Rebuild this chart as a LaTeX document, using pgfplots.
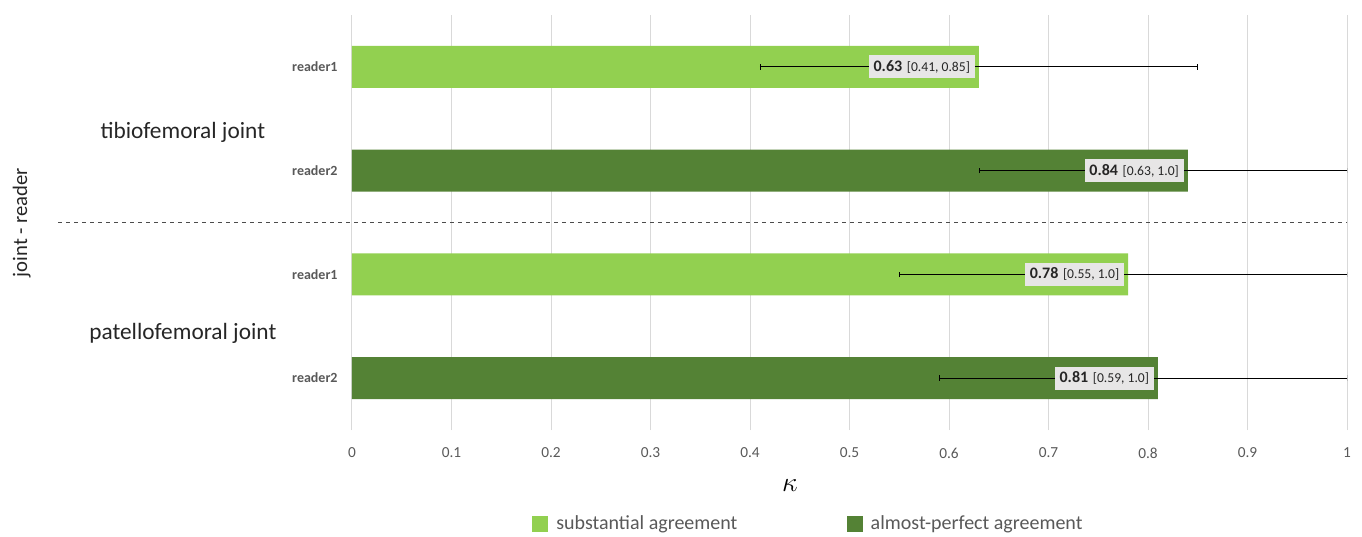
\documentclass[border=0pt]{standalone}
\usepackage{fontspec}
\setmainfont{Carlito}
\usepackage{pgfplots}
\usepackage{pgfplotstable}
\pgfplotsset{compat=1.18}
\definecolor{lightg}{HTML}{92D050}
\definecolor{darkg}{HTML}{548235}
\definecolor{tickgray}{HTML}{595959}
\definecolor{gridgray}{HTML}{D9D9D9}
\definecolor{boxgray}{HTML}{E7E6E6}
\definecolor{txt}{HTML}{262626}
% bar label: kappa in bold, CI small
\DeclareRobustCommand\lbl[2]{{\fontsize{12}{14}\selectfont\bfseries #1}\hspace{3.5pt}{\fontsize{10.2}{12}\selectfont #2}}

% kappa with 95% CI; pos 3..0 from top to bottom; ep/em = CI half-widths
\pgfplotstableread[col sep=semicolon]{
pos;k;ep;em;lab
3;0.63;0.22;0.22;\lbl{0.63}{[0.41, 0.85]}
1;0.78;0.22;0.23;\lbl{0.78}{[0.55, 1.0]}
}\substantial
\pgfplotstableread[col sep=semicolon]{
pos;k;ep;em;lab
2;0.84;0.16;0.21;\lbl{0.84}{[0.63, 1.0]}
0;0.81;0.19;0.22;\lbl{0.81}{[0.59, 1.0]}
}\almostperfect

\begin{document}
\begin{tikzpicture}
\useasboundingbox (-264pt,-79.5pt) rectangle (757.5pt,322.5pt);
\begin{axis}[
    at={(0,0)}, anchor=south west,
    scale only axis,
    width=746.25pt, height=311.25pt,
    xmin=0, xmax=1, ymin=-0.5, ymax=3.5,
    clip mode=individual,
    xbar, bar width=31.5pt, bar shift=0pt,
    axis line style={draw=none},
    tick style={draw=none},
    xmajorgrids, grid style={gridgray, line width=0.75pt},
    xtick={0,0.1,0.2,0.3,0.4,0.5,0.6,0.7,0.8,0.9,1},
    xticklabels={0,0.1,0.2,0.3,0.4,0.5,0.6,0.7,0.8,0.9,1},
    xticklabel style={font=\fontsize{11.5}{13}\selectfont, text=tickgray, yshift=-10pt},
    ytick={0,1,2,3},
    yticklabels={reader2,reader1,reader2,reader1},
    yticklabel style={font=\fontsize{10.5}{12}\selectfont\bfseries, text=tickgray, xshift=-3pt},
    point meta=explicit symbolic,
    nodes near coords={\pgfplotspointmeta},
    every node near coord/.append style={anchor=east, xshift=-3pt, fill=boxgray, text=txt,
        minimum height=17.25pt, inner xsep=3.5pt, inner ysep=1pt},
    legend columns=2,
    legend style={at={(0.459,-0.2265)}, anchor=center, draw=none,
        font=\fontsize{15}{18}\selectfont, text=tickgray,
        /tikz/every even column/.append style={column sep=80pt}},
    legend image code/.code={\fill[#1] (0pt,-6pt) rectangle (12pt,6pt); \path (16pt,0pt);},
]
\addplot[fill=lightg, draw=none,
    error bars/.cd, x dir=both, x explicit,
    error bar style={line width=0.8pt, black}]
    table[x=k, y=pos, meta=lab, x error plus=ep, x error minus=em] {\substantial};
\addlegendentry{substantial agreement}
\addplot[fill=darkg, draw=none,
    error bars/.cd, x dir=both, x explicit,
    error bar style={line width=0.8pt, black}]
    table[x=k, y=pos, meta=lab, x error plus=ep, x error minus=em] {\almostperfect};
\addlegendentry{almost-perfect agreement}

\draw[dashed, line width=0.75pt, black!70] (axis cs:-0.295,1.5) -- (axis cs:1,1.5);
\node[font=\fontsize{17.5}{20}\selectfont, text=txt] at (axis cs:-0.17,2.37) {tibiofemoral joint};
\node[font=\fontsize{17.5}{20}\selectfont, text=txt] at (axis cs:-0.17,0.43) {patellofemoral joint};
\node[font=\fontsize{15.5}{18}\selectfont, text=txt, rotate=90] at (axis cs:-0.332,1.5) {joint - reader};
\node[font=\fontsize{20}{24}\selectfont] at (axis cs:0.44,-0.5) [yshift=-42pt] {$\kappa$};
\end{axis}
\end{tikzpicture}
\end{document}
